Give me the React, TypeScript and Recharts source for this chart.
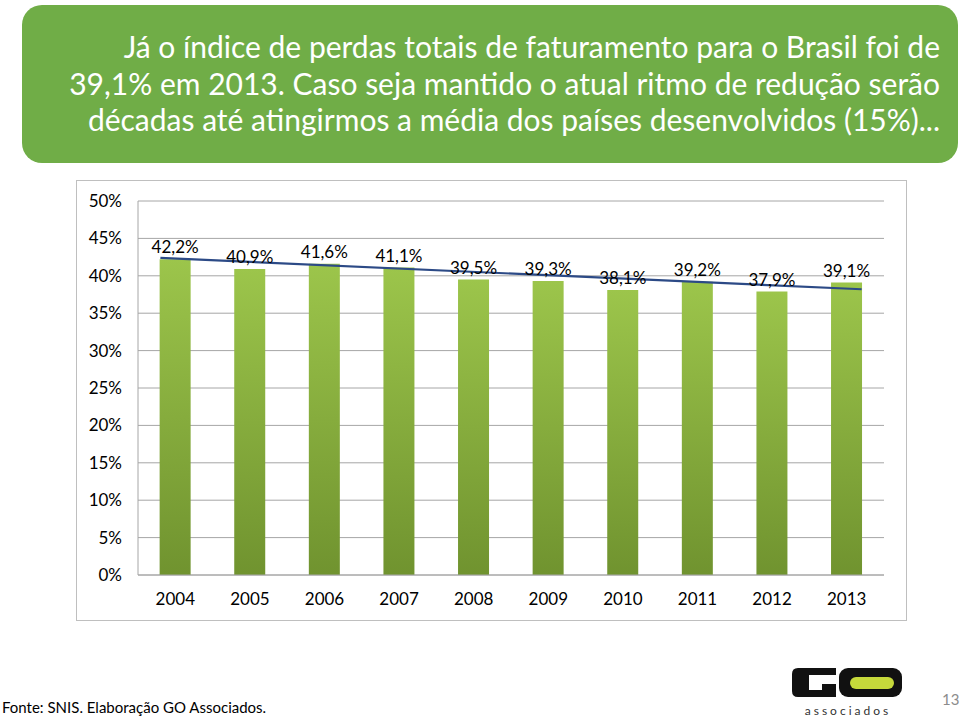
import {
  ComposedChart,
  Bar,
  Line,
  XAxis,
  YAxis,
  CartesianGrid,
  LabelList,
} from "recharts";

const years = ["2004", "2005", "2006", "2007", "2008", "2009", "2010", "2011", "2012", "2013"];
const perdas = [42.2, 40.9, 41.6, 41.1, 39.5, 39.3, 38.1, 39.2, 37.9, 39.1];
const yTicks = [0, 5, 10, 15, 20, 25, 30, 35, 40, 45, 50];
// trend line: it runs from the left edge of the first bar to the right edge of the last
const trendPos = [2003.8, 2013.2];
const trendVal = [42.4, 38.2];

const data = years.map((year, i) => ({ year, value: perdas[i] }));
const trendData = trendPos.map((pos, i) => ({ pos, trend: trendVal[i] }));

const fmt = (v: number) => v.toFixed(1).replace(".", ",") + "%";
const font = "Lato, 'Open Sans', sans-serif";

const Logo = () => (
  <svg width={112} height={52} viewBox="0 0 112 52" style={{ position: "absolute", left: 792, top: 666 }}>
    <path d="M6 2 H44 V9 H17 V24 H30 V18 H44 V31 H6 Q0 31 0 25 V8 Q0 2 6 2 Z" fill="#111" />
    <rect x={47} y={2} width={63} height={29} rx={9} fill="#111" />
    <rect x={58} y={11} width={44} height={12} rx={6} fill="#c6d93b" />
    <text x={56} y={49} textAnchor="middle" fontSize={12} letterSpacing={3} fill="#333" fontFamily={font}>
      associados
    </text>
  </svg>
);

export default function App() {
  return (
    <div style={{ position: "absolute", left: 0, top: 0, width: 960, height: 719, background: "#fff", fontFamily: font, overflow: "hidden" }}>
      <div
        style={{
          position: "absolute",
          left: 22,
          top: 5,
          width: 936,
          height: 158,
          background: "#70ad47",
          borderRadius: 20,
          color: "#fff",
          fontSize: 30,
          lineHeight: "36.5px",
          textAlign: "right",
          boxSizing: "border-box",
          paddingRight: 18,
          paddingTop: 23,
          whiteSpace: "nowrap",
        }}
      >
        Já o índice de perdas totais de faturamento para o Brasil foi de
        <br />
        39,1% em 2013. Caso seja mantido o atual ritmo de redução serão
        <br />
        décadas até atingirmos a média dos países desenvolvidos (15%)...
      </div>

      <div
        style={{
          position: "absolute",
          left: 76,
          top: 180,
          width: 831,
          height: 441,
          border: "1px solid #bfbfbf",
          boxSizing: "border-box",
        }}
      />
      <div style={{ position: "absolute", left: 76, top: 180 }}>
        <ComposedChart width={831} height={441} data={data} margin={{ top: 21, right: 23, left: 0, bottom: 0 }} barCategoryGap="29%">
          <defs>
            <linearGradient id="barGreen" x1="0" y1="0" x2="0" y2="1">
              <stop offset="0%" stopColor="#9cc54b" />
              <stop offset="100%" stopColor="#70932f" />
            </linearGradient>
          </defs>
          <CartesianGrid vertical={false} stroke="#a6a6a6" />
          <XAxis
            dataKey="year"
            height={46}
            tickSize={0}
            tickMargin={18}
            axisLine={{ stroke: "#a6a6a6" }}
            tick={{ fill: "#000", fontSize: 17, fontFamily: font }}
          />
          <XAxis xAxisId="trend" type="number" dataKey="pos" domain={[2003.5, 2013.5]} hide />
          <YAxis
            width={62}
            domain={[0, 50]}
            ticks={yTicks}
            interval={0}
            tickFormatter={(v: number) => v + "%"}
            tickSize={0}
            tickMargin={16}
            axisLine={{ stroke: "#a6a6a6" }}
            tick={{ fill: "#000", fontSize: 17, fontFamily: font }}
          />
          <Bar dataKey="value" fill="url(#barGreen)" isAnimationActive={false}>
            <LabelList dataKey="value" position="top" offset={6} formatter={(v: any) => fmt(Number(v))} fill="#000" fontSize={17} fontFamily={font} />
          </Bar>
          <Line
            xAxisId="trend"
            data={trendData}
            dataKey="trend"
            type="linear"
            stroke="#2c4a86"
            strokeWidth={2.2}
            dot={false}
            activeDot={false}
            isAnimationActive={false}
          />
        </ComposedChart>
      </div>

      <div style={{ position: "absolute", left: 2, top: 698, fontSize: 15, color: "#000" }}>
        Fonte: SNIS. Elaboração GO Associados.
      </div>
      <Logo />
      <div style={{ position: "absolute", left: 942, top: 690, fontSize: 15, color: "#8c8c8c" }}>13</div>
    </div>
  );
}
